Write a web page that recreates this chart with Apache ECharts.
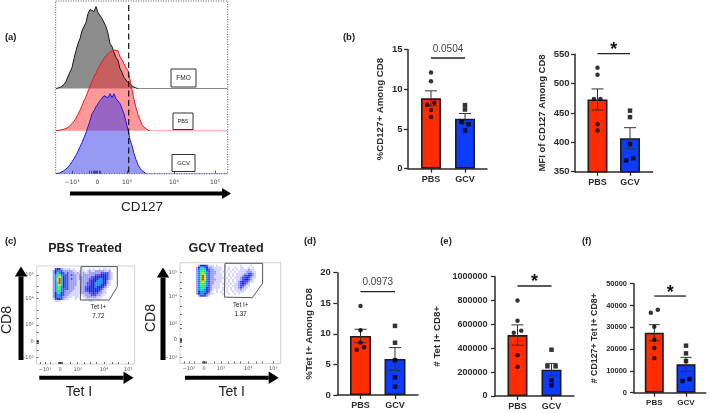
<!DOCTYPE html>
<html><head><meta charset="utf-8">
<style>html,body{margin:0;padding:0;background:#fff}#c{width:709px;height:413px}#c canvas{filter:blur(0.4px)}</style>
<script src="https://cdn.jsdelivr.net/npm/echarts@6/dist/echarts.min.js"></script>
</head><body><div id="c"></div>
<script>
// ---------- data: bar panels ----------
const groups = ['PBS', 'GCV'];
const b1Pbs = [12.1, 11.0, 8.3, 8.05, 7.4, 6.5], b1Gcv = [8.0, 7.45, 5.87, 5.6, 4.8];
const b1PbsX = [0, 0, 0.1, -0.11, 0, 0], b1GcvX = [0, 0, -0.1, 0.11, 0];
const b1Mean = [8.85, 6.3], b1Sem = [0.95, 0.65];
const b2Pbs = [527, 515, 474, 474, 431, 420], b2Gcv = [454, 443, 397, 373, 369];
const b2PbsX = [0, 0, -0.11, 0.09, 0, 0], b2GcvX = [0, 0, 0, 0.1, -0.12];
const b2Mean = [473, 407], b2Sem = [18, 18];
const dPbs = [14.55, 10.57, 8.6, 7.8, 7.4], dGcv = [11.3, 8.55, 5.7, 2.9, 1.36];
const dPbsX = [0, 0, 0, 0.1, -0.11], dGcvX = [0, 0, 0, 0, 0];
const dMean = [9.65, 5.9], dSem = [1.1, 1.85];
const ePbs = [801000, 631000, 547000, 531000, 341000, 243000], eGcv = [388000, 249000, 249000, 131000, 89000];
const ePbsX = [0, 0, 0.11, -0.11, 0, 0], eGcvX = [0, 0.12, -0.12, 0, 0];
const eMean = [511000, 221000], eSem = [85000, 52000];
const fPbs = [38070, 36700, 30280, 24300, 20500, 15750], fGcv = [21560, 18040, 14530, 6270, 5350];
const fPbsX = [0.11, -0.11, 0, 0, 0, 0], fGcvX = [0, 0, 0, 0.11, -0.11];
const fMean = [27500, 13000], fSem = [3700, 3200];

// ---------- data: histograms (heights in counts, one bin every 2 channels) ----------
const fmoCounts = [0,.5,1,2,4,7,12,14,21,30,38,45,50,58,60,66,75,79,81,77,82,76,78,70,72,62,55,45,42,36,31,28,20,16,11,9,6,4,2.5,1,.5,0];
const pbsCounts = [0,.3,.6,1,1.5,2,3.2,5,7,9.5,12.5,16.5,20.5,25,30,34,39.5,44,49,54,57.5,62,65.5,69,72,75,76.5,79,78,80.5,79,80,74,71,67,63,60,51,41,31,23,16,11,6,3.5,1.5,.5,0];
const gcvCounts = [0,0,.8,1.5,3,4.8,6.5,9,12,15,18.5,22.5,27,31,36,41,47,53,60,63,67,70,73,75,78,80,76,80,76,80,75,73,70,65,60,52,44,34,28,20,14,9,5.5,3,1,0];
const histTickValues = [16.5, 42, 71.5, 118.5, 159.5];
const histMinorTicks = [16.5, 34, 36, 37.5, 39, 40, 41, 42, 43.5, 45, 71.5, 118.5, 159.5];
const flowTickLabels = ['\u221210\u00b3', '0', '10\u00b3', '10\u2074', '10\u2075'];

// ---------- data: flow density grids (0 empty .. 9 hottest) ----------
const pbsDensity = [
'',
'00000000034421111010001000101001011010000',
'00000000245532222211011101211222221120000',
'00000000246543232221211211222222333321000',
'00000000257753332322121222222333444321000',
'00000000257864332222122222233444444321000',
'00000000258964332322122222334445544321000',
'00000000258964332222112222344455544210000',
'00000000257964332222112223344555544210000',
'00000000257864332222112223344555443110000',
'00000000257754332221112233444544432100000',
'00000000257753332221112234444444321000000',
'00000000256653222211112233444443211000000',
'00000000246643222111112222334332211000000',
'00000000245543221111101122233322110000000',
'00000000245532211101100112222211100000000',
'00000000134432110001000011111111000000000',
'00000000011100000000000000110000000000000'];
const gcvDensity = [
'',
'000000000244431110100010000000100001000000',
'000000002466542211111010100100110010100000',
'000000002567643221111010101010111121100000',
'000000002577653222110101010101111222110000',
'000000002578753222111010101011112233210000',
'000000002579853221111010101011123343210000',
'000000002579853221111101010111233432110000',
'000000002579853222111010101011234432100000',
'000000002578753221111010101012343321100000',
'000000002577753221110101010112343210000000',
'000000002577653211110010101112332110000000',
'000000002566643211110101010112321100000000',
'000000002566543210100101010111211000000000',
'000000002455543100101001001011110000000000',
'000000002455432110000100100101000000000000',
'000000000233321000000000000000000000000000'];
const pbsGate = [[22.15,.3],[40.3,.3],[40.3,10.3],[36.3,17],[21.8,17],[22.15,.3]];
const gcvGate = [[22.5,.3],[41.3,.3],[41.3,10.3],[36.2,17.5],[22.2,17.2],[22.5,.3]];
const pbsTicksX = [4.15,11.65,20.5,33.65,45.8], pbsTicksY = [4.5,16.15,29.5,37.85,45.85];
const gcvTicksX = [4.5,12,20.5,34.15,46.65], gcvTicksY = [5,17,30.65,38.65,47.3];
const blobTicks = [-.9,-.6,-.3,0,.3,.6,.9];

// ---------- styling ----------
const FONT = '"Liberation Sans", Arial, sans-serif';
const INK = '#2b2b2b';
const RED = '#ff2c00', BLUE = '#0b3cff';
const densityColors = ['', '#d4d4ff', '#9a9aff', '#4a4afa', '#1428e4', '#0090ff', '#00e0c0', '#40f040', '#f0e000', '#f03000'];

const grids = [], xAxes = [], yAxes = [], series = [], graphic = [];

function addAxes(grid, x, y) {
  const i = grids.length;
  grids.push(grid);
  xAxes.push(Object.assign({ gridIndex: i }, x));
  yAxes.push(Object.assign({ gridIndex: i }, y));
  return i;
}

function barPanel(o) {
  const sp = o.gcvC - o.pbsC;
  const xMin = 1 - (o.pbsC - o.left) / sp;
  const xMax = 2 + (o.right - o.gcvC) / sp;
  const i = addAxes(
    { left: o.left, top: o.top, width: o.right - o.left, height: o.bottom - o.top },
    { type: 'value', min: xMin, max: xMax, splitLine: { show: false },
      axisLine: { onZero: false, lineStyle: { color: INK, width: 1.5 } },
      axisTick: { customValues: [1, 2], length: 4, lineStyle: { color: INK, width: 1.3 } },
      axisLabel: { customValues: [1, 2], formatter: v => groups[v - 1], margin: 6, color: INK,
        fontFamily: FONT, fontWeight: 'bold', fontSize: o.xFont } },
    { type: 'value', min: o.min, max: o.max, interval: o.step, splitLine: { show: false },
      axisLine: { show: true, onZero: false, lineStyle: { color: INK, width: 1.5 } },
      axisTick: { show: true, length: 4, lineStyle: { color: INK, width: 1.3 } },
      axisLabel: { margin: o.yMargin, color: INK, fontFamily: FONT, fontWeight: 'bold', fontSize: o.yFont, formatter: v => String(v) },
      name: o.title, nameLocation: 'middle', nameRotate: 90, nameGap: o.nameGap,
      nameTextStyle: { color: INK, fontFamily: FONT, fontWeight: 'bold', fontSize: o.titleFont } }
  );
  series.push({ type: 'bar', xAxisIndex: i, yAxisIndex: i, barWidth: o.barW, silent: true,
    data: [{ value: [1, o.mean[0]], itemStyle: { color: RED } }, { value: [2, o.mean[1]], itemStyle: { color: BLUE } }],
    itemStyle: { borderColor: '#1c1c1c', borderWidth: 1.6 }, z: 2 });
  series.push({ type: 'custom', xAxisIndex: i, yAxisIndex: i, silent: true, z: 3,
    data: [[1, o.mean[0], o.sem[0]], [2, o.mean[1], o.sem[1]]],
    renderItem(p, api) {
      const x = api.value(0), m = api.value(1), s = api.value(2);
      const hi = api.coord([x, m + s]), lo = api.coord([x, m - s]);
      const st = { stroke: '#333', lineWidth: 1, fill: 'none' };
      const c = o.cap;
      return { type: 'group', children: [
        { type: 'line', shape: { x1: hi[0], y1: hi[1], x2: lo[0], y2: lo[1] }, style: st },
        { type: 'line', shape: { x1: hi[0] - c, y1: hi[1], x2: hi[0] + c, y2: hi[1] }, style: st },
        { type: 'line', shape: { x1: lo[0] - c, y1: lo[1], x2: lo[0] + c, y2: lo[1] }, style: st }
      ] };
    } });
  series.push({ type: 'scatter', xAxisIndex: i, yAxisIndex: i, silent: true, symbol: 'circle', symbolSize: 4.5, z: 4,
    itemStyle: { color: '#000' }, data: o.pbs.map((v, k) => [1 + o.pbsX[k], v]) });
  series.push({ type: 'scatter', xAxisIndex: i, yAxisIndex: i, silent: true, symbol: 'rect', symbolSize: 4.5, z: 4,
    itemStyle: { color: '#000' }, data: o.gcv.map((v, k) => [2 + o.gcvX[k], v]) });
  series.push({ type: 'custom', xAxisIndex: i, yAxisIndex: i, silent: true, z: 4, clip: false,
    data: [[1, 2, o.sigY]],
    renderItem(p, api) {
      const a = api.coord([api.value(0), api.value(2)]), b = api.coord([api.value(1), api.value(2)]);
      const star = o.sig === '*';
      return { type: 'group', children: [
        { type: 'line', shape: { x1: a[0], y1: a[1], x2: b[0], y2: b[1] }, style: { stroke: '#222', lineWidth: 1.3 } },
        { type: 'text', style: { x: (a[0] + b[0]) / 2, y: a[1] - (star ? 3.5 : 4), text: o.sig, align: 'center',
            verticalAlign: star ? 'middle' : 'bottom', fill: star ? '#111' : '#444',
            font: (star ? 'bold 18px ' : '10px ') + FONT } }
      ] };
    } });
}

barPanel({ left: 408, right: 487, top: 49.5, bottom: 168.7, pbsC: 431, gcvC: 465, min: 0, max: 15, step: 5,
  mean: b1Mean, sem: b1Sem, pbs: b1Pbs, gcv: b1Gcv, pbsX: b1PbsX, gcvX: b1GcvX, barW: 20, cap: 6,
  sig: '0.0504', sigY: 13.93, title: '%CD127+ Among CD8', nameGap: 23, titleFont: 9.7, yFont: 9.5, xFont: 9, yMargin: 5.5 });
barPanel({ left: 575, right: 652.7, top: 54.3, bottom: 171.7, pbsC: 597.5, gcvC: 630, min: 350, max: 550, step: 50,
  mean: b2Mean, sem: b2Sem, pbs: b2Pbs, gcv: b2Gcv, pbsX: b2PbsX, gcvX: b2GcvX, barW: 20, cap: 6,
  sig: '*', sigY: 551, title: 'MFI of CD127 Among CD8', nameGap: 28, titleFont: 9.5, yFont: 9.5, xFont: 9, yMargin: 5.5 });
barPanel({ left: 337.3, right: 418, top: 272.7, bottom: 395, pbsC: 360.5, gcvC: 395, min: 0, max: 20, step: 5,
  mean: dMean, sem: dSem, pbs: dPbs, gcv: dGcv, pbsX: dPbsX, gcvX: dGcvX, barW: 21, cap: 6,
  sig: '0.0973', sigY: 16.9, title: '%Tet I+ Among CD8', nameGap: 23, titleFont: 9.7, yFont: 9.5, xFont: 9, yMargin: 6.5 });
barPanel({ left: 495, right: 574, top: 276.7, bottom: 396, pbsC: 517.5, gcvC: 551.5, min: 0, max: 1000000, step: 200000,
  mean: eMean, sem: eSem, pbs: ePbs, gcv: eGcv, pbsX: ePbsX, gcvX: eGcvX, barW: 20, cap: 6,
  sig: '*', sigY: 922000, title: '# Tet I+ CD8+', nameGap: 53, titleFont: 9.7, yFont: 9, xFont: 9, yMargin: 7.5 });
barPanel({ left: 634, right: 705.7, top: 283.7, bottom: 392.7, pbsC: 654.3, gcvC: 686, min: 0, max: 50000, step: 10000,
  mean: fMean, sem: fSem, pbs: fPbs, gcv: fGcv, pbsX: fPbsX, gcvX: fGcvX, barW: 19, cap: 5.5,
  sig: '*', sigY: 44340, title: '# CD127+ Tet I+ CD8+', nameGap: 35, titleFont: 8.8, yFont: 7.5, xFont: 8, yMargin: 7 });

// ---------- (a) histograms ----------
function histo(counts, baseline, line, tail, fill, showAxis) {
  const i = addAxes(
    { left: 55.5, width: 172, top: baseline - 85, height: 85 },
    { type: 'value', min: 0, max: 172, show: showAxis, splitLine: { show: false },
      axisLine: { show: false, onZero: false },
      axisTick: { show: showAxis, inside: true, length: 3, customValues: histMinorTicks, lineStyle: { color: '#222', width: .8 } },
      axisLabel: { show: showAxis, customValues: histTickValues, margin: 6, fontSize: 6, color: '#444', fontFamily: '"DejaVu Sans"',
        formatter: v => flowTickLabels[histTickValues.indexOf(v)] } },
    { type: 'value', min: 0, max: 85, show: false }
  );
  const pts = counts.map((c, k) => [0.5 + 2 * k, c]);
  const end = pts[pts.length - 1];
  series.push({ type: 'line', xAxisIndex: i, yAxisIndex: i, silent: true, showSymbol: false, smooth: false, clip: false,
    lineStyle: { color: line, width: 1 }, areaStyle: { color: fill, opacity: 1 }, data: pts, z: 2 });
  series.push({ type: 'line', xAxisIndex: i, yAxisIndex: i, silent: true, showSymbol: false, clip: false,
    lineStyle: { color: tail, width: 1 }, data: [end, [172, 0]], z: 2 });
}
histo(fmoCounts, 88.5, '#1a1a1a', '#8a8a8a', 'rgba(95,95,95,0.72)', false);
histo(pbsCounts, 130.7, '#f01820', '#ffa0a0', 'rgba(255,50,50,0.5)', false);
histo(gcvCounts, 173.7, '#1a1ae8', '#a8a8f8', 'rgba(50,50,235,0.5)', true);

// ---------- (c) flow plots ----------
function flow(o) {
  const i = addAxes(
    { left: o.left, top: o.top, width: o.width, height: o.height, show: true, borderColor: '#d0d0d0', borderWidth: 1 },
    { type: 'value', min: 0, max: o.cellsX, position: 'bottom', splitLine: { show: false }, axisLine: { show: false, onZero: false },
      axisTick: { customValues: o.ticksX.concat(blobTicks.map(v => o.ticksX[1] + v), [2, 7, 17, 24, 27, 30, 38, 41]), length: 2, inside: true, lineStyle: { color: '#333', width: .7 } },
      axisLabel: { customValues: o.ticksX, margin: 3, fontSize: 5, color: '#555', fontFamily: '"DejaVu Sans"',
        formatter: v => flowTickLabels[o.ticksX.indexOf(v)] } },
    { type: 'value', min: 0, max: o.cellsY, inverse: true, splitLine: { show: false }, axisLine: { show: false, onZero: false },
      axisTick: { show: true, customValues: o.ticksY.concat(blobTicks.map(v => o.ticksY[3] + v), [10, 13, 22, 26, 33, 42]), length: 2, inside: true, lineStyle: { color: '#333', width: .7 } },
      axisLabel: { customValues: o.ticksY, margin: 3, fontSize: 5, color: '#555', fontFamily: '"DejaVu Sans"',
        formatter: v => flowTickLabels[4 - o.ticksY.indexOf(v)] } }
  );
  const cells = [];
  o.density.forEach((row, r) => { for (let c = 0; c < row.length; c++) { const d = +row[c]; if (d) cells.push([c, r, d]); } });
  series.push({ type: 'custom', xAxisIndex: i, yAxisIndex: i, silent: true, z: 2, data: cells,
    renderItem(p, api) {
      const a = api.coord([api.value(0), api.value(1)]), b = api.coord([api.value(0) + 1, api.value(1) + 1]);
      return { type: 'rect', shape: { x: a[0], y: a[1], width: b[0] - a[0], height: b[1] - a[1] },
        style: { fill: densityColors[api.value(2)] } };
    } });
  series.push({ type: 'custom', xAxisIndex: i, yAxisIndex: i, silent: true, z: 3, data: [[0, 0]],
    renderItem(p, api) {
      return { type: 'polyline', shape: { points: o.gate.map(g => api.coord(g)) }, style: { stroke: '#555', lineWidth: 1, fill: 'none' } };
    } });
}
flow({ left: 36.7, top: 266, width: 98, height: 98, cellsX: 49, cellsY: 49, density: pbsDensity, gate: pbsGate, ticksX: pbsTicksX, ticksY: pbsTicksY });
flow({ left: 180, top: 262.7, width: 100.7, height: 100.7, cellsX: 50.35, cellsY: 50.35, density: gcvDensity, gate: gcvGate, ticksX: gcvTicksX, ticksY: gcvTicksY });

// ---------- annotations ----------
function text(x, y, s, size, extra) {
  graphic.push(Object.assign({ type: 'text', x, y, z: 20, style: Object.assign({ text: s, align: 'center', verticalAlign: 'middle',
    fill: '#222', font: size + 'px ' + FONT }, extra || {}) }));
}
function arrow(x1, y1, x2, y2, w, head) {
  const dx = Math.sign(x2 - x1), dy = Math.sign(y2 - y1);
  graphic.push({ type: 'line', z: 20, shape: { x1, y1, x2: x2 - dx * head, y2: y2 - dy * head }, style: { stroke: '#000', lineWidth: w } });
  const h = head * 0.62;
  graphic.push({ type: 'polygon', z: 20, shape: { points: [[x2, y2], [x2 - dx * head + dy * h, y2 - dy * head + dx * h], [x2 - dx * head - dy * h, y2 - dy * head - dx * h]] }, style: { fill: '#000' } });
}
[['(a)', 10.7, 37], ['(b)', 349, 37], ['(c)', 10.7, 241.7], ['(d)', 310, 241], ['(e)', 446, 241], ['(f)', 586.7, 241]]
  .forEach(l => text(l[1], l[2], l[0], 9.5, { font: 'bold 9.5px ' + FONT }));

// histogram frame, gate line and tags
graphic.push({ type: 'rect', z: 15, shape: { x: 55.7, y: 1, width: 172, height: 172.7 }, style: { fill: 'none', stroke: '#555', lineWidth: 1, lineDash: [1, 1.5] } });
graphic.push({ type: 'line', z: 16, shape: { x1: 128.7, y1: 5, x2: 128.7, y2: 173 }, style: { stroke: '#111', lineWidth: 1.2, lineDash: [6, 3.5] } });
[['FMO', 171, 69, 25, 18, 6.5], ['PBS', 173, 113, 20, 16.5, 5.5], ['GCV', 172, 154.5, 23, 17, 5.8]].forEach(b => {
  graphic.push({ type: 'rect', z: 17, shape: { x: b[1], y: b[2], width: b[3], height: b[4] }, style: { fill: '#fff', stroke: '#333', lineWidth: 1 } });
  text(b[1] + b[3] / 2, b[2] + b[4] / 2 + .5, b[0], b[5]);
});
arrow(70, 193.5, 231, 193.5, 4, 9);
text(142, 207, 'CD127', 13.5);

// flow plot labels and arrows
text(85, 249, 'PBS Treated', 12.5, { font: 'bold 12.5px ' + FONT });
text(226, 249, 'GCV Treated', 12.5, { font: 'bold 12.5px ' + FONT });
arrow(21, 360, 21, 266.5, 5, 10);
arrow(163, 360, 163, 267.5, 5, 10);
arrow(39.3, 377.7, 133.5, 377.7, 4, 10);
arrow(185, 377.7, 278.7, 377.7, 4, 10);
graphic.push({ type: 'text', x: 7.5, y: 320, rotation: Math.PI / 2, z: 20, style: { text: 'CD8', align: 'center', verticalAlign: 'middle', fill: '#222', font: '14px ' + FONT } });
graphic.push({ type: 'text', x: 151, y: 318, rotation: Math.PI / 2, z: 20, style: { text: 'CD8', align: 'center', verticalAlign: 'middle', fill: '#222', font: '14px ' + FONT } });
text(79, 392.5, 'Tet I', 14);
text(231.7, 392.5, 'Tet I', 14);
text(98.3, 307.7, 'Tet I+', 6.3);
text(98.3, 316.7, '7.72', 6.3);
text(240.7, 305, 'Tet I+', 6.3);
text(240.7, 314, '1.37', 6.3);

const chart = echarts.init(document.getElementById('c'), null, { renderer: 'canvas' });
chart.setOption({ animation: false, backgroundColor: '#fff', grid: grids, xAxis: xAxes, yAxis: yAxes, series, graphic: { elements: graphic } });
</script></body></html>
